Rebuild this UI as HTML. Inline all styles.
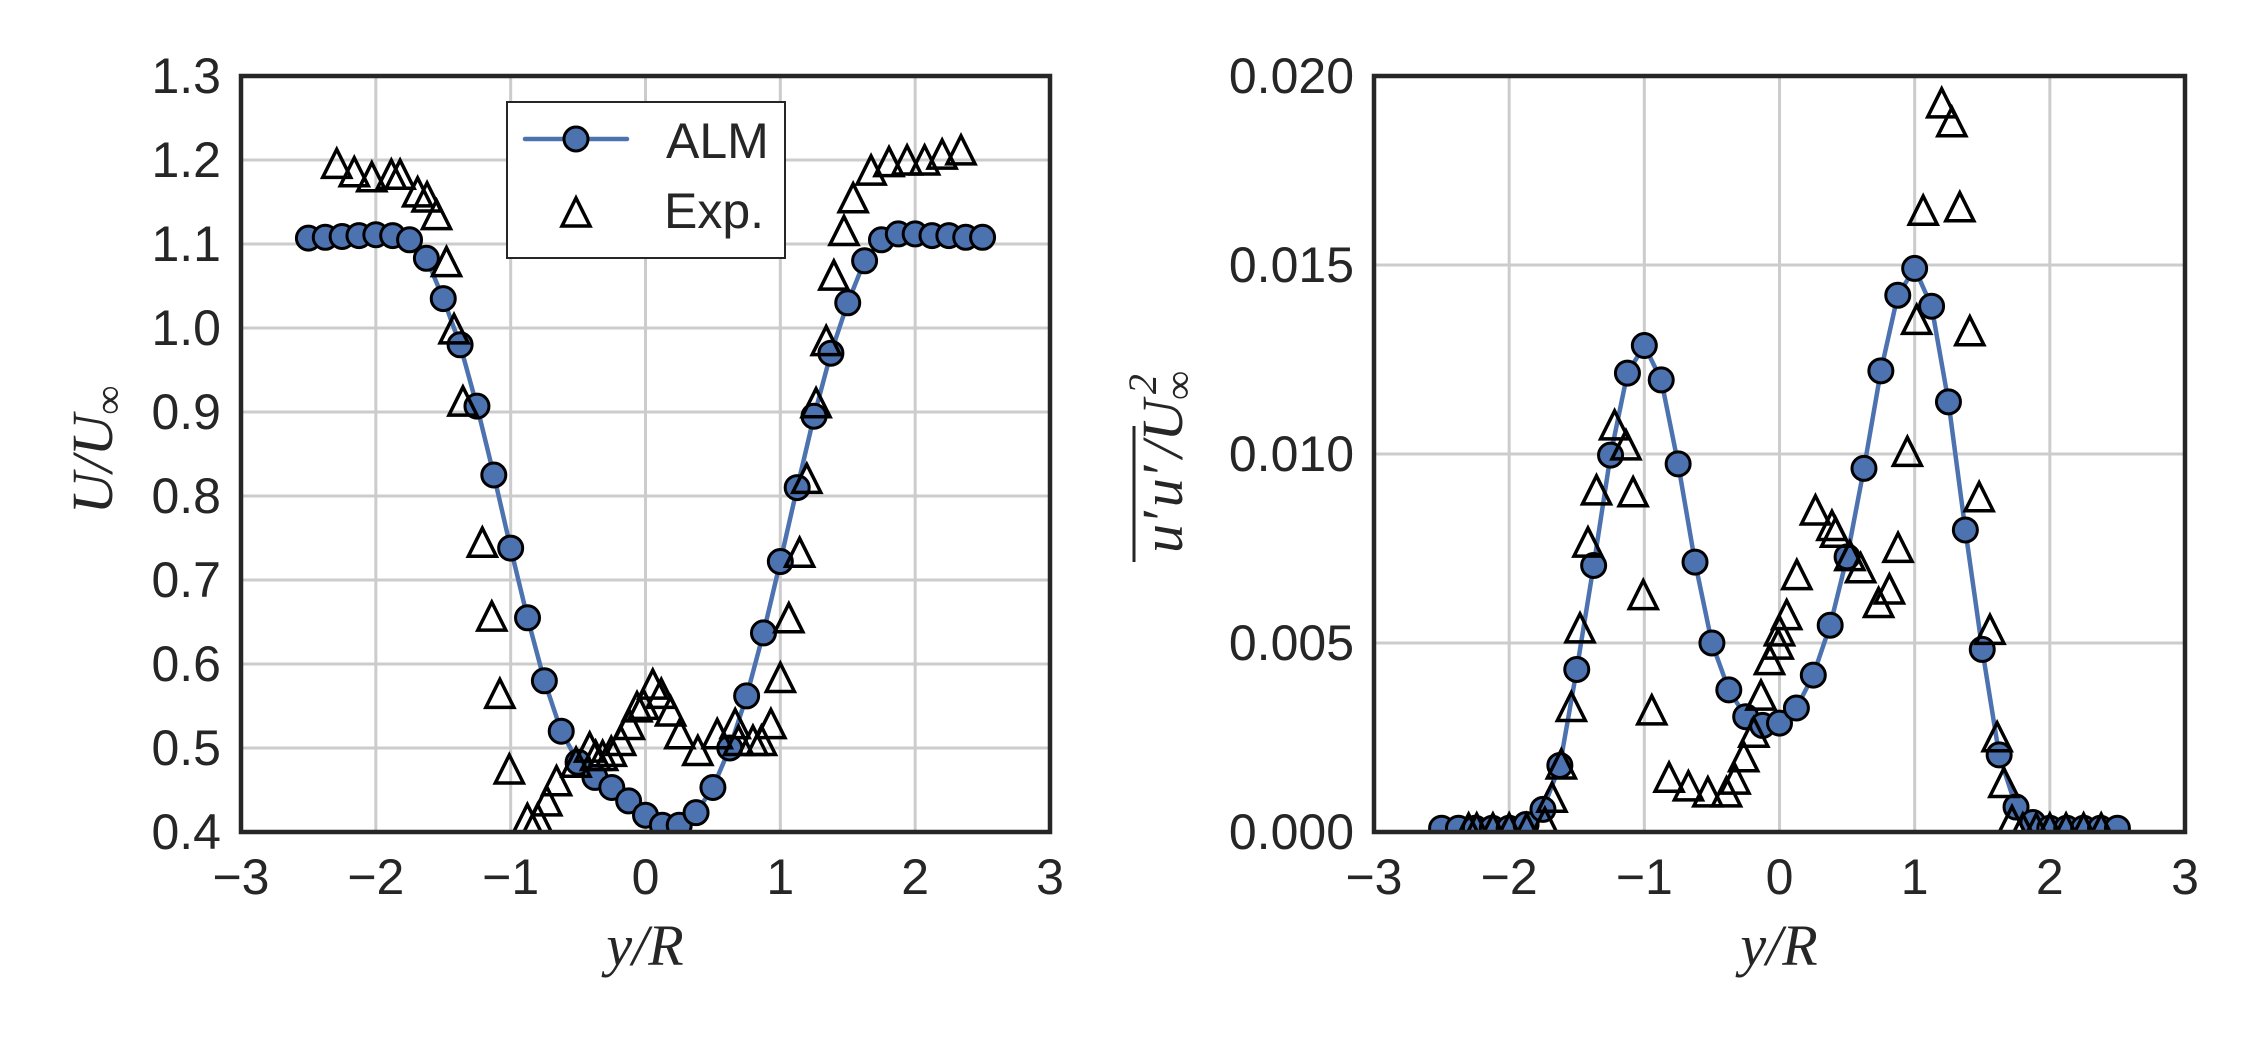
<!DOCTYPE html>
<html><head><meta charset="utf-8"><style>
html,body{margin:0;padding:0;background:#fff;}
svg{display:block;}
.tk{font-family:"Liberation Sans",sans-serif;font-size:50px;fill:#262626;}
.lb{font-family:"Liberation Serif",serif;font-style:italic;font-size:58px;fill:#262626;}
</style></head><body>
<svg id="s" width="2250" height="1050" viewBox="0 0 2250 1050" xmlns="http://www.w3.org/2000/svg">
<rect width="2250" height="1050" fill="#fff"/>
<text class="lb" x="645" y="965" text-anchor="middle">y/R</text>
<text class="lb" x="1779" y="965" text-anchor="middle">y/R</text>
<text class="lb" transform="translate(112,450) rotate(-90)" text-anchor="middle">U/U<tspan font-size="40" dy="10">∞</tspan></text>
<text class="lb" transform="translate(1182,462) rotate(-90)" text-anchor="middle">u′<tspan dx="4">u′</tspan><tspan dx="8">/U</tspan><tspan font-size="40" dy="10">∞</tspan><tspan font-size="40" dx="-23" dy="-36">2</tspan></text>
<line x1="1134" y1="562" x2="1134" y2="426" stroke="#262626" stroke-width="3"/>
</svg>
<script>
var S=document.getElementById('s'),NS='http://www.w3.org/2000/svg';
function el(t,a,p){var e=document.createElementNS(NS,t);for(var k in a)e.setAttribute(k,a[k]);(p||S).appendChild(e);return e;}
function axes(x0,x1,y0,y1,ymin,ymax,yt,fmt,alm,exp,legend){
 var X=function(v){return x0+(v+3)/6*(x1-x0)},Y=function(v){return y1-(v-ymin)/(ymax-ymin)*(y1-y0)};
 for(var i=-3;i<=3;i++){el('line',{x1:X(i),x2:X(i),y1:y0,y2:y1,stroke:'#cccccc','stroke-width':3});
  var t=el('text',{x:X(i),y:y1+62,'text-anchor':'middle','class':'tk'});t.textContent=(i<0?'\u2212':'')+Math.abs(i);}
 yt.forEach(function(v){el('line',{x1:x0,x2:x1,y1:Y(v),y2:Y(v),stroke:'#cccccc','stroke-width':3});
  var t=el('text',{x:x0-20,y:Y(v)+17,'text-anchor':'end','class':'tk'});t.textContent=v.toFixed(fmt);});
 var cp=el('clipPath',{id:'c'+x0});el('rect',{x:x0,y:y0,width:x1-x0,height:y1-y0},cp);
 var gg=el('g',{'clip-path':'url(#c'+x0+')'});
 var pts=alm.map(function(v,i){return X(-2.5+0.125*i)+','+Y(v)}).join(' ');
 el('polyline',{points:pts,fill:'none',stroke:'#4c72b0','stroke-width':4.5,'stroke-linejoin':'round'},gg);
 alm.forEach(function(v,i){el('circle',{cx:X(-2.5+0.125*i),cy:Y(v),r:12,fill:'#4c72b0',stroke:'#000','stroke-width':3},gg);});
 exp.forEach(function(p){var cx=X(p[0]),cy=Y(p[1]);el('polygon',{points:(cx)+','+(cy-14)+' '+(cx-14)+','+(cy+14)+' '+(cx+14)+','+(cy+14),fill:'none',stroke:'#000','stroke-width':3.5},gg);});
 el('rect',{x:x0,y:y0,width:x1-x0,height:y1-y0,fill:'none',stroke:'#262626','stroke-width':4.5});
 if(legend){
  el('rect',{x:507,y:102,width:278,height:156,fill:'#fff',stroke:'#262626','stroke-width':2});
  el('line',{x1:525,x2:627,y1:139,y2:139,stroke:'#4c72b0','stroke-width':4.5,'stroke-linecap':'round'});
  el('circle',{cx:576,cy:139,r:12,fill:'#4c72b0',stroke:'#000','stroke-width':3});
  el('polygon',{points:'576,198 562,226 590,226',fill:'none',stroke:'#000','stroke-width':3.5});
  var t=el('text',{x:666,y:158,'class':'tk'});t.textContent='ALM';
  t=el('text',{x:664,y:228,'class':'tk'});t.textContent='Exp.';
 }
}
var alm1=[1.107,1.108,1.109,1.110,1.111,1.110,1.105,1.083,1.035,0.98,0.907,0.825,0.738,0.655,0.58,0.52,0.483,0.465,0.453,0.437,0.42,0.408,0.408,0.423,0.453,0.50,0.562,0.637,0.722,0.81,0.895,0.97,1.03,1.08,1.105,1.112,1.112,1.11,1.11,1.108,1.108];
var exp1=[[-2.29,1.196],[-2.16,1.186],[-2.03,1.18],[-1.885,1.183],[-1.82,1.183],[-1.69,1.162],[-1.62,1.156],[-1.55,1.135],[-1.476,1.079],[-1.42,0.999],[-1.354,0.913],[-1.21,0.745],[-1.14,0.657],[-1.08,0.565],[-1.01,0.475],[-0.876,0.416],[-0.80,0.416],[-0.732,0.437],[-0.66,0.461],[-0.515,0.483],[-0.414,0.501],[-0.37,0.491],[-0.318,0.491],[-0.254,0.496],[-0.185,0.509],[-0.12,0.528],[-0.063,0.549],[-0.015,0.552],[0.054,0.576],[0.117,0.565],[0.186,0.544],[0.255,0.517],[0.388,0.497],[0.532,0.517],[0.665,0.529],[0.69,0.509],[0.797,0.509],[0.86,0.509],[0.93,0.529],[1.0,0.584],[1.063,0.655],[1.143,0.733],[1.196,0.821],[1.265,0.911],[1.34,0.985],[1.397,1.063],[1.472,1.116],[1.54,1.155],[1.673,1.188],[1.806,1.198],[1.94,1.2],[2.07,1.2],[2.2,1.207],[2.34,1.212]];
var alm2=[0.0001,0.0001,0.0001,0.0001,0.0001,0.0002,0.0006,0.00176,0.0043,0.00705,0.00997,0.01214,0.01287,0.01196,0.00974,0.00714,0.005,0.00376,0.00305,0.00282,0.00288,0.00328,0.00415,0.00547,0.00728,0.00962,0.0122,0.0142,0.01491,0.01391,0.01138,0.00799,0.00483,0.00204,0.00066,0.00025,0.0001,0.0001,0.0001,0.0001,0.0001];
var exp2=[[-2.3,0.0001],[-2.24,0.0001],[-2.12,0.0001],[-2.0,0.0001],[-1.87,0.0001],[-1.736,0.00025],[-1.683,0.00092],[-1.614,0.0018],[-1.54,0.00332],[-1.476,0.0054],[-1.417,0.00767],[-1.354,0.00905],[-1.22,0.01077],[-1.136,0.01024],[-1.083,0.009],[-1.008,0.00628],[-0.945,0.00323],[-0.817,0.00145],[-0.674,0.00122],[-0.53,0.00106],[-0.392,0.00106],[-0.329,0.0014],[-0.265,0.00199],[-0.19,0.00264],[-0.137,0.00362],[-0.074,0.00456],[-0.01,0.00497],[0.0,0.00532],[0.053,0.00575],[0.128,0.00681],[0.266,0.00852],[0.388,0.00811],[0.415,0.00793],[0.521,0.00731],[0.60,0.00699],[0.733,0.00607],[0.813,0.00643],[0.877,0.00753],[0.946,0.01007],[1.015,0.01356],[1.063,0.01645],[1.20,0.01929],[1.275,0.01879],[1.334,0.01654],[1.408,0.01326],[1.477,0.00887],[1.557,0.00536],[1.61,0.00252],[1.66,0.00131],[1.72,0.0003],[1.8,0.0001],[1.9,0.0001],[2.0,0.0001],[2.12,0.0001],[2.25,0.0001],[2.38,0.0001]];
axes(241,1050,76,832,0.4,1.3,[0.4,0.5,0.6,0.7,0.8,0.9,1.0,1.1,1.2,1.3],1,alm1,exp1,true);
axes(1374,2185,76,832,0,0.02,[0,0.005,0.01,0.015,0.02],3,alm2,exp2,false);
</script>
</body></html>
